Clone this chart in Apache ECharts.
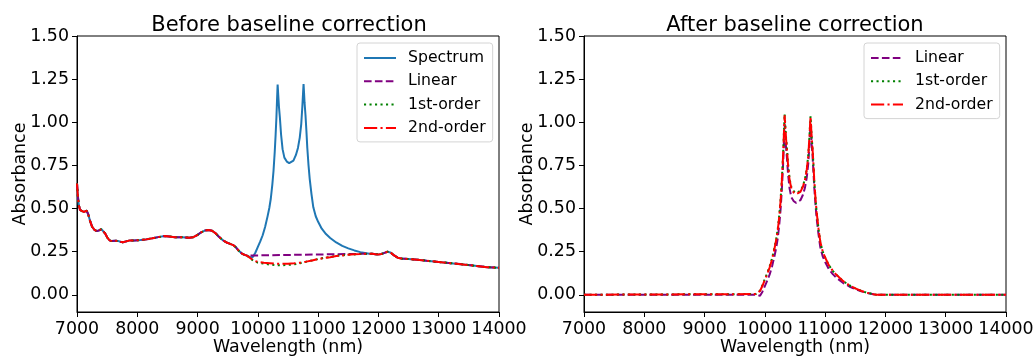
<!DOCTYPE html>
<html>
<head>
<meta charset="utf-8">
<script src="https://cdn.jsdelivr.net/npm/echarts@6/dist/echarts.min.js"></script>
<style>
  html, body { margin: 0; padding: 0; background: #fff; }
  #chart { width: 1035px; height: 356px; }
</style>
</head>
<body>
<div id="chart"></div>
<script>
// Axis ticks
const xTicks = [7000, 8000, 9000, 10000, 11000, 12000, 13000, 14000];
const yTicks = [0, 0.25, 0.5, 0.75, 1.0, 1.25, 1.5];

// Measured spectrum: wavelength (nm) and absorbance
const wavelength = [
  7000, 7015, 7030, 7050, 7080, 7110, 7140, 7160, 7185, 7215, 7250, 7290, 7330, 7370, 7405, 7435, 7465,
  7500, 7540, 7580, 7630, 7680, 7720, 7760, 7800, 7870, 7950, 8050, 8150, 8250, 8350, 8450, 8530, 8620,
  8750, 8860, 8930, 9000, 9060, 9120, 9180, 9240, 9290, 9350, 9420, 9480, 9540, 9590, 9630, 9680, 9730,
  9780, 9820,
  9850, 9880, 9920, 9960, 10000, 10040, 10080, 10120, 10160, 10190, 10215, 10240, 10260, 10280, 10295,
  10308, 10318, 10328, 10338, 10350, 10365, 10385, 10410, 10440, 10480, 10520, 10550, 10590, 10630,
  10665, 10695, 10720, 10738, 10750, 10758, 10766, 10775, 10790, 10805, 10820, 10840, 10860, 10890,
  10920, 10960, 11000, 11060, 11130, 11200, 11300, 11400, 11500, 11600, 11700, 11800, 11850,
  11900, 11950, 12000, 12050, 12100, 12150, 12200, 12260, 12320, 12380, 12500, 12650, 12800, 13000,
  13200, 13400, 13600, 13800, 14000
];
const absorbance = [
  0.645, 0.570, 0.520, 0.492, 0.482, 0.480, 0.486, 0.487, 0.468, 0.430, 0.395, 0.376, 0.369, 0.374, 0.380, 0.372, 0.356,
  0.333, 0.315, 0.311, 0.313, 0.312, 0.307, 0.304, 0.308, 0.314, 0.315, 0.317, 0.321, 0.327, 0.334, 0.340, 0.338, 0.334,
  0.333, 0.331, 0.334, 0.347, 0.362, 0.372, 0.375, 0.371, 0.359, 0.338, 0.316, 0.303, 0.295, 0.288, 0.277, 0.256, 0.240,
  0.231, 0.227,
  0.226, 0.216, 0.220, 0.245, 0.277, 0.309, 0.345, 0.393, 0.453, 0.503, 0.558, 0.638, 0.719, 0.829, 0.929,
  1.029, 1.129, 1.219, 1.159, 1.089, 1.029, 0.929, 0.844, 0.795, 0.772, 0.763, 0.765, 0.778, 0.809,
  0.851, 0.911, 0.991, 1.091, 1.171, 1.221, 1.172, 1.112, 1.042, 0.952, 0.852, 0.752, 0.672, 0.582,
  0.507, 0.455, 0.423, 0.383, 0.352, 0.329, 0.303, 0.283, 0.269, 0.257, 0.247, 0.241, 0.238,
  0.237, 0.235, 0.234, 0.236, 0.243, 0.249, 0.245, 0.228, 0.215, 0.210, 0.207, 0.203, 0.197, 0.190,
  0.183, 0.176, 0.168, 0.160, 0.156
];

// Baseline fit window; outside it every baseline follows the spectrum
const fitStart = 9850;
const fitEnd = 11850;

// Linear baseline: straight line between the window anchors
const linearWavelength = [9850, 11850];
const linearBaseline = [0.226, 0.238];

// Polynomial baselines inside the window
const polyWavelength = [9850, 9900, 9950, 10000, 10100, 10200, 10300, 10400, 10500, 10600, 10700, 10800,
  10900, 11000, 11100, 11200, 11300, 11400, 11500, 11600, 11700, 11800, 11850];
const firstOrderBaseline = [0.222, 0.204, 0.193, 0.186, 0.180, 0.175, 0.172, 0.171, 0.173, 0.176, 0.183, 0.191,
  0.199, 0.207, 0.214, 0.219, 0.225, 0.229, 0.232, 0.234, 0.236, 0.237, 0.238];
const secondOrderBaseline = [0.222, 0.206, 0.196, 0.190, 0.186, 0.183, 0.180, 0.179, 0.180, 0.182, 0.186, 0.192,
  0.199, 0.207, 0.213, 0.218, 0.224, 0.228, 0.232, 0.235, 0.236, 0.238, 0.238];

// Baseline-corrected absorbance
const correctedWavelength = [
  7000, 9850, 9880, 9920, 9960, 10000, 10040, 10080, 10120, 10160, 10190, 10215, 10240, 10260, 10280, 10295,
  10308, 10318, 10328, 10338, 10350, 10365, 10385, 10410, 10440, 10480, 10520, 10550, 10590, 10630,
  10665, 10695, 10720, 10738, 10750, 10758, 10766, 10775, 10790, 10805, 10820, 10840, 10860, 10890,
  10920, 10960, 11000, 11060, 11130, 11200, 11300, 11400, 11500, 11600, 11700, 11800, 11850, 14000
];
const correctedLinear = [
  0, 0, -0.010, -0.006, 0.018, 0.050, 0.082, 0.118, 0.165, 0.225, 0.275, 0.330, 0.410, 0.490, 0.600, 0.700,
  0.800, 0.900, 0.990, 0.930, 0.860, 0.800, 0.700, 0.615, 0.565, 0.542, 0.533, 0.535, 0.548, 0.578,
  0.620, 0.680, 0.760, 0.860, 0.940, 0.990, 0.940, 0.880, 0.810, 0.720, 0.620, 0.520, 0.440, 0.350,
  0.275, 0.222, 0.190, 0.150, 0.118, 0.095, 0.068, 0.048, 0.033, 0.020, 0.010, 0.003, 0, 0
];
const correctedFirstOrder = [
  0, 0.004, 0.009, 0.024, 0.055, 0.091, 0.126, 0.165, 0.212, 0.275, 0.328, 0.384, 0.465, 0.546, 0.656, 0.757,
  0.857, 0.958, 1.048, 0.988, 0.918, 0.858, 0.758, 0.673, 0.623, 0.600, 0.590, 0.591, 0.602, 0.630,
  0.670, 0.728, 0.808, 0.906, 0.986, 1.035, 0.985, 0.923, 0.852, 0.761, 0.659, 0.558, 0.476, 0.383,
  0.306, 0.250, 0.216, 0.172, 0.137, 0.111, 0.079, 0.055, 0.037, 0.022, 0.011, 0.003, 0, 0
];
const correctedSecondOrder = [
  0, 0.004, 0.008, 0.022, 0.052, 0.087, 0.121, 0.159, 0.206, 0.268, 0.320, 0.376, 0.457, 0.538, 0.648, 0.749,
  0.849, 0.950, 1.040, 0.980, 0.910, 0.850, 0.750, 0.665, 0.615, 0.592, 0.583, 0.584, 0.596, 0.625,
  0.666, 0.725, 0.805, 0.904, 0.984, 1.033, 0.983, 0.922, 0.851, 0.760, 0.659, 0.558, 0.476, 0.383,
  0.306, 0.250, 0.216, 0.172, 0.137, 0.111, 0.079, 0.055, 0.037, 0.022, 0.011, 0.003, 0, 0
];

const FONT = 'DejaVu Sans';
const FS = 17.4;        // tick labels and axis names
const FS_TITLE = 21;
const FS_LEGEND = 15.7;
const COLORS = { spectrum: '#1f77b4', linear: '#800080', first: '#008000', second: '#ff0000' };
const LW = 2;
const DASHED = [7.6, 3.3];
const DOTTED = [2.1, 3.4];
const DASHDOT = [13.2, 3.3, 2.1, 3.3];

function pairs(xs, ys) { return xs.map((x, i) => [x, ys[i]]); }

// A baseline spans the full range: spectrum outside the fit window, model inside it
function withSpectrumOutside(xs, ys) {
  const before = [], after = [];
  wavelength.forEach((w, i) => {
    if (w < fitStart) before.push([w, absorbance[i]]);
    else if (w > fitEnd) after.push([w, absorbance[i]]);
  });
  return before.concat(pairs(xs, ys), after);
}

function xAxisFor(gridIndex) {
  return {
    type: 'value', gridIndex, min: 7000, max: 14000, interval: 1000,
    name: 'Wavelength (nm)', nameLocation: 'middle', nameGap: 27, nameMoveOverlap: false,
    nameTextStyle: { fontFamily: FONT, fontSize: FS, color: '#000' },
    axisLine: { show: true, onZero: false, lineStyle: { color: '#000', width: 1 } },
    axisTick: { show: true, length: 5, customValues: xTicks, lineStyle: { color: '#000', width: 1 } },
    axisLabel: { fontFamily: FONT, fontSize: FS, color: '#000', margin: 8.5,
                 customValues: xTicks, formatter: v => String(v) },
    splitLine: { show: false }
  };
}

function yAxisFor(gridIndex) {
  return {
    type: 'value', gridIndex, min: -0.1, max: 1.5,
    name: 'Absorbance', nameLocation: 'middle', nameGap: 48, nameRotate: 90, nameMoveOverlap: false,
    nameTextStyle: { fontFamily: FONT, fontSize: FS, color: '#000' },
    axisLine: { show: true, onZero: false, lineStyle: { color: '#000', width: 1 } },
    axisTick: { show: true, length: 5, customValues: yTicks, lineStyle: { color: '#000', width: 1 } },
    axisLabel: { fontFamily: FONT, fontSize: FS, color: '#000', margin: 8,
                 customValues: yTicks, formatter: v => v.toFixed(2) },
    splitLine: { show: false }
  };
}

function lineSeries(name, data, color, type, axisIndex, z) {
  return {
    name, type: 'line', data, xAxisIndex: axisIndex, yAxisIndex: axisIndex,
    symbol: 'none', showSymbol: false, smooth: false, z,
    lineStyle: { color, width: LW, type },
    itemStyle: { color },
    emphasis: { disabled: true },
    clip: true
  };
}

function legendAt(left, names) {
  return {
    left, top: 43, orient: 'vertical', data: names,
    itemWidth: 32, itemHeight: 14, itemGap: 7.3,
    itemStyle: { opacity: 0 },
    backgroundColor: '#fff', borderColor: '#d4d4d4', borderWidth: 1, borderRadius: 3,
    padding: [7, 7, 6, 6], selectedMode: false,
    formatter: n => '{t|' + n + '}',
    textStyle: {
      fontFamily: FONT, fontSize: FS_LEGEND, color: '#000',
      rich: { t: { fontFamily: FONT, fontSize: FS_LEGEND, color: '#000', lineHeight: 16, padding: [0, 0, 0, 7] } }
    }
  };
}

const gridBase = { top: 36, bottom: 44, show: true, borderColor: '#000', borderWidth: 1,
                   backgroundColor: 'transparent', outerBoundsMode: 'none', containLabel: false };

const chart = echarts.init(document.getElementById('chart'), null, { renderer: 'canvas' });
chart.setOption({
  animation: false,
  backgroundColor: '#fff',
  title: [
    { text: 'Before baseline correction', left: 284, top: 10, textAlign: 'center',
      textStyle: { fontFamily: FONT, fontSize: FS_TITLE, fontWeight: 'normal', color: '#000' } },
    { text: 'After baseline correction', left: 790, top: 10, textAlign: 'center',
      textStyle: { fontFamily: FONT, fontSize: FS_TITLE, fontWeight: 'normal', color: '#000' } }
  ],
  grid: [
    Object.assign({ left: 77, right: 536 }, gridBase),
    Object.assign({ left: 584, right: 29 }, gridBase)
  ],
  xAxis: [xAxisFor(0), xAxisFor(1)],
  yAxis: [yAxisFor(0), yAxisFor(1)],
  legend: [
    legendAt(357, ['Spectrum', 'Linear', '1st-order', '2nd-order']),
    legendAt(864, ['Linear', '1st-order', '2nd-order'])
  ],
  series: [
    lineSeries('Spectrum', pairs(wavelength, absorbance), COLORS.spectrum, 'solid', 0, 2),
    lineSeries('Linear', withSpectrumOutside(linearWavelength, linearBaseline), COLORS.linear, DASHED, 0, 3),
    lineSeries('1st-order', withSpectrumOutside(polyWavelength, firstOrderBaseline), COLORS.first, DOTTED, 0, 4),
    lineSeries('2nd-order', withSpectrumOutside(polyWavelength, secondOrderBaseline), COLORS.second, DASHDOT, 0, 5),
    lineSeries('Linear', pairs(correctedWavelength, correctedLinear), COLORS.linear, DASHED, 1, 3),
    lineSeries('1st-order', pairs(correctedWavelength, correctedFirstOrder), COLORS.first, DOTTED, 1, 4),
    lineSeries('2nd-order', pairs(correctedWavelength, correctedSecondOrder), COLORS.second, DASHDOT, 1, 5)
  ]
});
</script>
</body>
</html>
